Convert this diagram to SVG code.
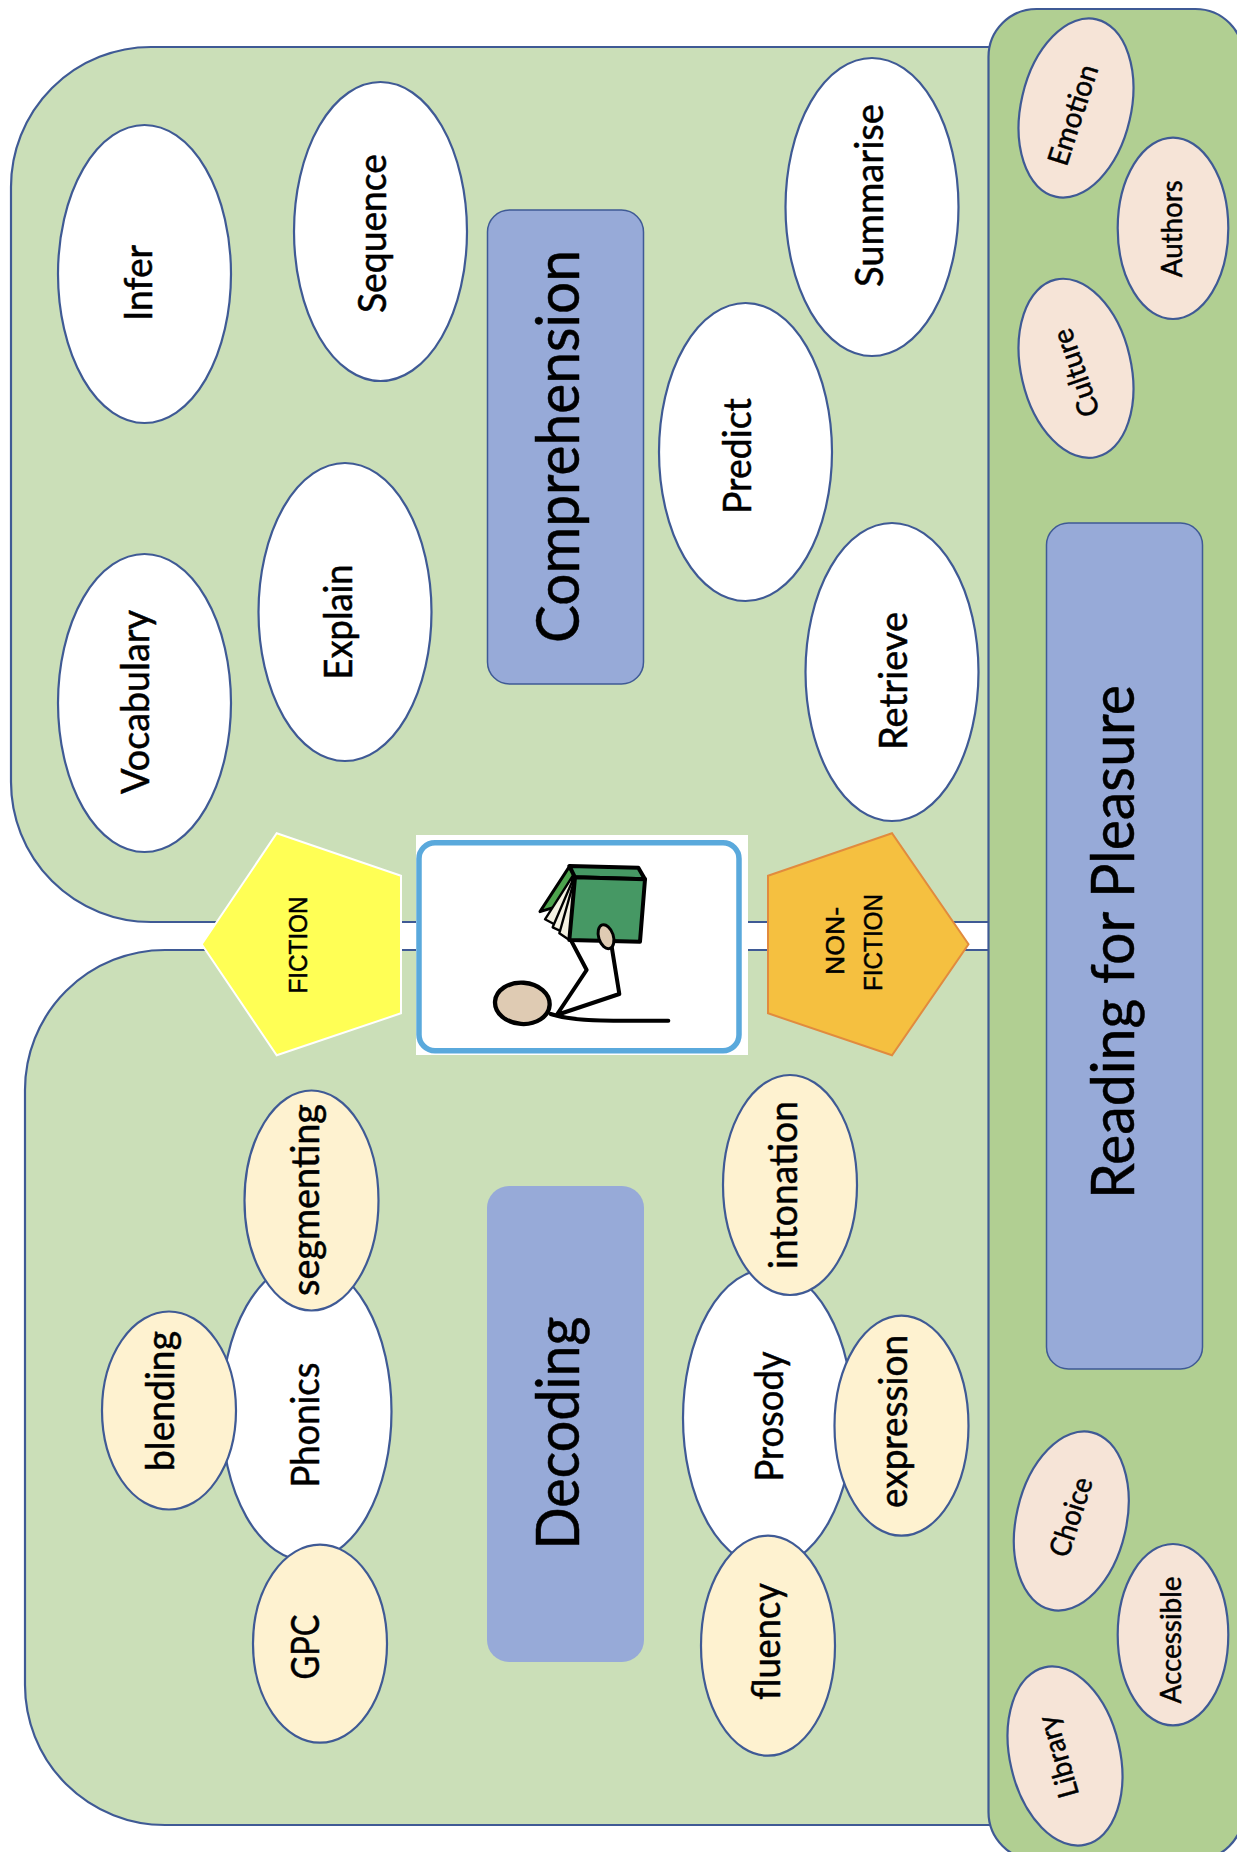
<svg xmlns="http://www.w3.org/2000/svg" width="1237" height="1852" viewBox="0 0 1237 1852">
<style>
.panel{fill:#cbdfb8;stroke:#3f5a95;stroke-width:2.200}
.pr{fill:#b1cf92;stroke:#3f5a95;stroke-width:2.200}
.head{fill:#97aad8;stroke:#3f5a95;stroke-width:1.500}
.w{fill:#fff;stroke:#3f5a95;stroke-width:2.200}
.c{fill:#fef2d0;stroke:#3f5a95;stroke-width:2.200}
.p{fill:#f6e4d7;stroke:#3f5a95;stroke-width:2.200}
text{font-family:"Lato","Open Sans",sans-serif;fill:#000;text-anchor:middle;stroke:#000;stroke-width:.5}
.big{font-size:60px}
.t40{font-size:38px}
.t30{font-size:29px}
.ar{font-family:"Liberation Sans",Arial,sans-serif;font-size:25px}
.k{stroke:#000;stroke-width:12;fill:none;stroke-linecap:round;stroke-linejoin:round}
.pg{fill:#f4f1e2;stroke:#000;stroke-width:7;stroke-linejoin:round}
</style>
<rect width="1237" height="1852" fill="#fff"/>
<g id="panel-comprehension"><rect class="panel" x="11" y="47" width="1140" height="875" rx="140" ry="140"/></g>
<g id="panel-decoding"><rect class="panel" x="25" y="950" width="1130" height="875" rx="140" ry="140"/></g>
<g id="panel-pleasure"><rect class="pr" x="988.500" y="9" width="255" height="1851" rx="48" ry="48"/></g>

<g id="comprehension"><rect class="head" x="487.500" y="210" width="156" height="474" rx="22"/><text class="big" transform="translate(579 446.500) rotate(-90)" textLength="393" lengthAdjust="spacingAndGlyphs">Comprehension</text></g>
<g id="decoding"><rect class="head" x="487" y="1186" width="157" height="476" rx="22" style="stroke:none"/><text class="big" transform="translate(579 1433) rotate(-90)" textLength="233" lengthAdjust="spacingAndGlyphs">Decoding</text></g>
<g id="reading-for-pleasure"><rect class="head" x="1046.500" y="523" width="156" height="846" rx="22"/><text class="big" transform="translate(1134 942) rotate(-90)" textLength="514" lengthAdjust="spacingAndGlyphs">Reading for Pleasure</text></g>

<g id="infer"><ellipse class="w" cx="144.500" cy="274" rx="86.500" ry="149"/><text class="t40" transform="translate(152 283) rotate(-90)" textLength="76" lengthAdjust="spacingAndGlyphs">Infer</text></g>
<g id="sequence"><ellipse class="w" cx="380.500" cy="231.500" rx="86.500" ry="149.500"/><text class="t40" transform="translate(386 233.500) rotate(-90)" textLength="159" lengthAdjust="spacingAndGlyphs">Sequence</text></g>
<g id="vocabulary"><ellipse class="w" cx="144.500" cy="703" rx="86.500" ry="149"/><text class="t40" transform="translate(149 702) rotate(-90)" textLength="184" lengthAdjust="spacingAndGlyphs">Vocabulary</text></g>
<g id="explain"><ellipse class="w" cx="345" cy="612" rx="86.500" ry="149"/><text class="t40" transform="translate(352 622) rotate(-90)" textLength="115" lengthAdjust="spacingAndGlyphs">Explain</text></g>
<g id="summarise"><ellipse class="w" cx="872" cy="207" rx="86.500" ry="149"/><text class="t40" transform="translate(883 195.500) rotate(-90)" textLength="183" lengthAdjust="spacingAndGlyphs">Summarise</text></g>
<g id="predict"><ellipse class="w" cx="745.500" cy="452" rx="86.500" ry="149"/><text class="t40" transform="translate(751 456) rotate(-90)" textLength="116" lengthAdjust="spacingAndGlyphs">Predict</text></g>
<g id="retrieve"><ellipse class="w" cx="892" cy="672" rx="86.500" ry="149"/><text class="t40" transform="translate(907 681) rotate(-90)" textLength="138" lengthAdjust="spacingAndGlyphs">Retrieve</text></g>

<g id="phonics"><ellipse class="w" cx="306.500" cy="1411.500" rx="85" ry="149"/><text class="t40" transform="translate(319 1425) rotate(-90)" textLength="125" lengthAdjust="spacingAndGlyphs">Phonics</text></g>
<g id="segmenting"><ellipse class="c" cx="311.500" cy="1200.500" rx="67" ry="110"/><text class="t40" transform="translate(319 1200) rotate(-90)" textLength="192" lengthAdjust="spacingAndGlyphs">segmenting</text></g>
<g id="blending"><ellipse class="c" cx="169" cy="1410.500" rx="67" ry="99"/><text class="t40" transform="translate(174 1401) rotate(-90)" textLength="140" lengthAdjust="spacingAndGlyphs">blending</text></g>
<g id="gpc"><ellipse class="c" cx="320" cy="1643.700" rx="67" ry="99"/><text class="t40" transform="translate(319 1647) rotate(-90)" textLength="65" lengthAdjust="spacingAndGlyphs">GPC</text></g>
<g id="prosody"><ellipse class="w" cx="768" cy="1418" rx="85" ry="149"/><text class="t40" transform="translate(783 1416.500) rotate(-90)" textLength="130" lengthAdjust="spacingAndGlyphs">Prosody</text></g>
<g id="intonation"><ellipse class="c" cx="790" cy="1185" rx="67" ry="110"/><text class="t40" transform="translate(797 1185) rotate(-90)" textLength="168" lengthAdjust="spacingAndGlyphs">intonation</text></g>
<g id="expression"><ellipse class="c" cx="901.500" cy="1425.700" rx="67" ry="110"/><text class="t40" transform="translate(907 1421.500) rotate(-90)" textLength="173" lengthAdjust="spacingAndGlyphs">expression</text></g>
<g id="fluency"><ellipse class="c" cx="768" cy="1645.700" rx="67" ry="110"/><text class="t40" transform="translate(780 1641.500) rotate(-90)" textLength="117" lengthAdjust="spacingAndGlyphs">fluency</text></g>

<g id="emotion"><ellipse class="p" cx="1076" cy="108" rx="55" ry="91" transform="rotate(13 1076 108)"/><text class="t30" transform="translate(1073 115) rotate(-72) translate(0 10)" textLength="104" lengthAdjust="spacingAndGlyphs">Emotion</text></g>
<g id="authors"><ellipse class="p" cx="1173" cy="228.300" rx="55.300" ry="90.700"/><text class="t30" transform="translate(1182 228.700) rotate(-90)" textLength="97" lengthAdjust="spacingAndGlyphs">Authors</text></g>
<g id="culture"><ellipse class="p" cx="1076" cy="368.300" rx="55" ry="91" transform="rotate(-13 1076 368.300)"/><text class="t30" transform="translate(1076 373) rotate(-109) translate(0 10)" textLength="91" lengthAdjust="spacingAndGlyphs">Culture</text></g>
<g id="choice"><ellipse class="p" cx="1071.300" cy="1521" rx="55" ry="91" transform="rotate(13 1071.300 1521)"/><text class="t30" transform="translate(1071 1517) rotate(-72) translate(0 10)" textLength="82" lengthAdjust="spacingAndGlyphs">Choice</text></g>
<g id="accessible"><ellipse class="p" cx="1173" cy="1634.700" rx="55.300" ry="90.700"/><text class="t30" transform="translate(1181 1640) rotate(-90)" textLength="127" lengthAdjust="spacingAndGlyphs">Accessible</text></g>
<g id="library"><ellipse class="p" cx="1065" cy="1756" rx="55" ry="91" transform="rotate(-13 1065 1756)"/><text class="t30" transform="translate(1058 1757) rotate(-106) translate(0 10)" textLength="84" lengthAdjust="spacingAndGlyphs">Library</text></g>

<g id="fiction"><polygon points="276.700,833.300 401,875.700 401,1013.300 276.700,1055.300 201.700,944.300" fill="#ffff55" stroke="#fff" stroke-width="2"/><text class="ar" transform="translate(307 945) rotate(-90)" textLength="97" lengthAdjust="spacingAndGlyphs">FICTION</text></g>
<g id="non-fiction"><polygon points="892,833.300 768,875.700 768,1013.300 892,1055.300 968.500,944.300" fill="#f5c040" stroke="#e18b3e" stroke-width="2"/><text class="ar" transform="translate(844 941) rotate(-90)" textLength="68" lengthAdjust="spacingAndGlyphs">NON-</text><text class="ar" transform="translate(882 942.500) rotate(-90)" textLength="97" lengthAdjust="spacingAndGlyphs">FICTION</text></g>

<g id="reader-picture">
<rect x="416" y="835" width="332" height="220" fill="#fff"/>
<rect x="419" y="842.700" width="320" height="208" rx="16" fill="#fff" stroke="#5aa9dc" stroke-width="5.500"/>
<g transform="translate(380 800) scale(.33333)">
<polygon points="480,335 568,200 585,232 530,320" fill="#4da34d" stroke="#000" stroke-width="9" stroke-linejoin="round"/>
<polygon class="pg" points="495,358 578,228 565,395"/>
<polygon class="pg" points="518,382 582,232 568,405"/>
<polygon class="pg" points="538,400 585,232 568,420"/>
<polygon class="k" points="568,198 775,203 795,238 585,232" style="fill:#469864"/>
<polygon class="k" points="585,232 795,238 780,425 568,420" style="fill:#469864"/>
<path class="k" d="M575,425L620,510L530,645M695,440L718,582L530,645"/>
<ellipse cx="678" cy="410" rx="22" ry="37" transform="rotate(-18 678 410)" fill="#dfcbb3" stroke="#000" stroke-width="9"/>
<ellipse cx="427" cy="610" rx="82" ry="62" transform="rotate(4 427 610)" fill="#dfcbb3" stroke="#000" stroke-width="13"/>
<path class="k" d="M512,642Q570,662 700,662L865,662"/>
</g>
</g>
</svg>
